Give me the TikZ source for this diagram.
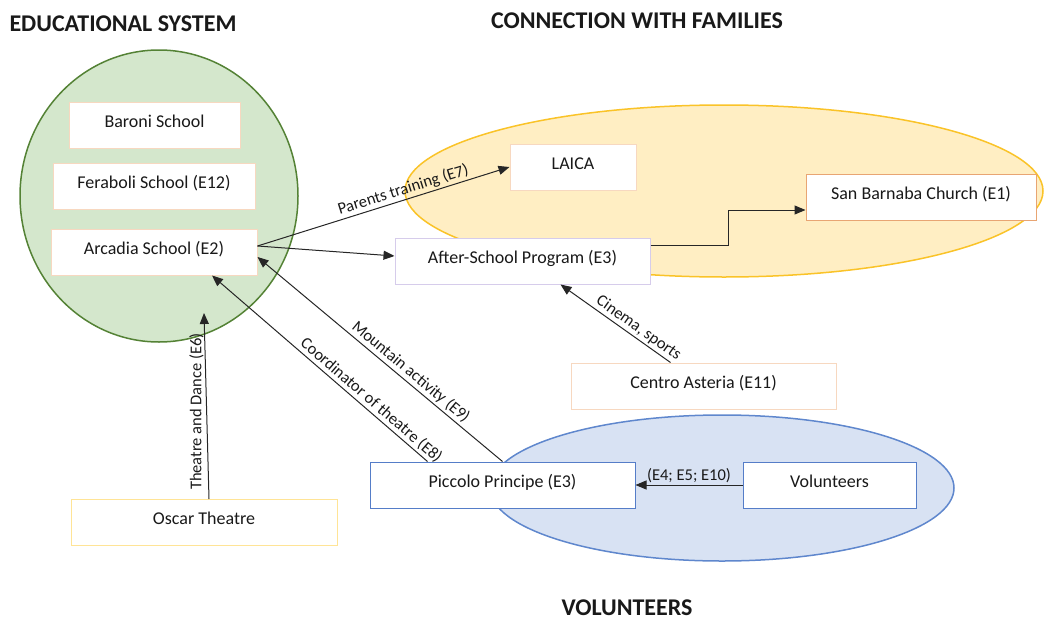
\documentclass[tikz,border=0pt]{standalone}
\usepackage{fontspec}
\setmainfont{Carlito}
\usetikzlibrary{arrows.meta}

\definecolor{eduFill}{RGB}{212,231,204}
\definecolor{eduLine}{RGB}{84,130,53}
\definecolor{famFill}{RGB}{255,238,195}
\definecolor{famLine}{RGB}{250,195,40}
\definecolor{volFill}{RGB}{216,226,243}
\definecolor{volLine}{RGB}{95,135,205}
\definecolor{peachLine}{RGB}{247,216,192}
\definecolor{churchLine}{RGB}{232,165,115}
\definecolor{lilacLine}{RGB}{214,204,235}
\definecolor{theatreLine}{RGB}{255,228,150}
\definecolor{volBox}{RGB}{85,125,200}

\begin{document}
\begin{tikzpicture}[x=1pt, y=-1pt,
    >={Triangle[length=11pt,width=9pt]},
    org/.style={draw=peachLine, fill=white, line width=1pt, minimum height=46pt,
        text height=13pt, text depth=9pt, inner sep=2pt,
        font=\fontsize{18}{22}\selectfont, text=black!90},
    flow/.style={line width=1pt, draw=black!85},
    flowlabel/.style={font=\fontsize{16.5}{20}\selectfont, inner sep=2pt, text=black!90},
    heading/.style={font=\bfseries\fontsize{24}{28}\selectfont, text=black!90}]
    \useasboundingbox (0,0) rectangle (1044,621);

    % Groups
    \filldraw[fill=eduFill, draw=eduLine, line width=1.5pt] (159,196) ellipse [x radius=139pt, y radius=146pt];
    \filldraw[fill=famFill, draw=famLine, line width=1.5pt] (724,191) ellipse [x radius=319pt, y radius=86pt];
    \filldraw[fill=volFill, draw=volLine, line width=1.5pt] (722,488) ellipse [x radius=232pt, y radius=73pt];

    % Headings
    \node[heading] (eduhead) at (123,24) {EDUCATIONAL SYSTEM};
    \node[heading] (famhead) at (637,21) {CONNECTION WITH FAMILIES};
    \node[heading] (volhead) at (627,608) {VOLUNTEERS};

    % Schools
    \node[org, minimum width=171pt] (baroni) at (154.5,125) {Baroni School};
    \node[org, minimum width=202pt] (feraboli) at (154,186) {Feraboli School (E12)};
    \node[org, minimum width=206pt] (arcadia) at (154,252) {Arcadia School (E2)};

    % Families and partners
    \node[org, minimum width=126pt] (laica) at (573,167) {LAICA};
    \node[org, draw=churchLine, minimum width=230pt] (barnaba) at (921,197) {San Barnaba Church (E1)};
    \node[org, draw=lilacLine, minimum width=255pt] (afterschool) at (522.5,261) {After-School Program (E3)};
    \node[org, minimum width=265pt] (asteria) at (703.5,386) {Centro Asteria (E11)};
    \node[org, draw=theatreLine, minimum width=266pt] (oscar) at (204,522.5) {Oscar Theatre};

    % Volunteers
    \node[org, draw=volBox, minimum width=265pt] (piccolo) at (502.5,485) {Piccolo Principe (E3)};
    \node[org, draw=volBox, minimum width=173pt] (volunteers) at (829.5,485) {Volunteers};

    % Links out of Arcadia
    \coordinate (arcout) at ([yshift=6pt]arcadia.east);
    \draw[flow,->] (arcout) -- node[flowlabel, sloped, above, pos=0.59] {Parents training (E7)} (laica.west);
    \draw[flow,->] (arcout) -- ([yshift=5pt]afterschool.west);
    \draw[flow,->] ([yshift=16pt]afterschool.east) -- ++(78,0) |- ([yshift=-13pt]barnaba.west);

    % Links into Arcadia and the after-school program
    \draw[flow,<-] ([xshift=38pt]afterschool.south) -- node[flowlabel, sloped, above, pos=0.66] {Cinema, sports} ([xshift=-33pt]asteria.north);
    \draw[flow,<-] ([xshift=58pt]arcadia.south) -- node[flowlabel, sloped, above, pos=0.71] {Coordinator of theatre (E8)} ([xshift=-75pt]piccolo.north);
    \draw[flow,<-] ([yshift=-5pt]arcadia.east) -- node[flowlabel, sloped, above, pos=0.6] {Mountain activity (E9)} (piccolo.north);
    \coordinate (theatretip) at (204,313);
    \draw[flow,->] ([xshift=5pt]oscar.north) -- node[flowlabel, rotate=90, above, inner sep=2.5pt, pos=0.47] {Theatre and Dance (E6)} (theatretip);
    \draw[flow,->] (volunteers.west) -- node[flowlabel, above] {(E4; E5; E10)} (piccolo.east);
\end{tikzpicture}
\end{document}
